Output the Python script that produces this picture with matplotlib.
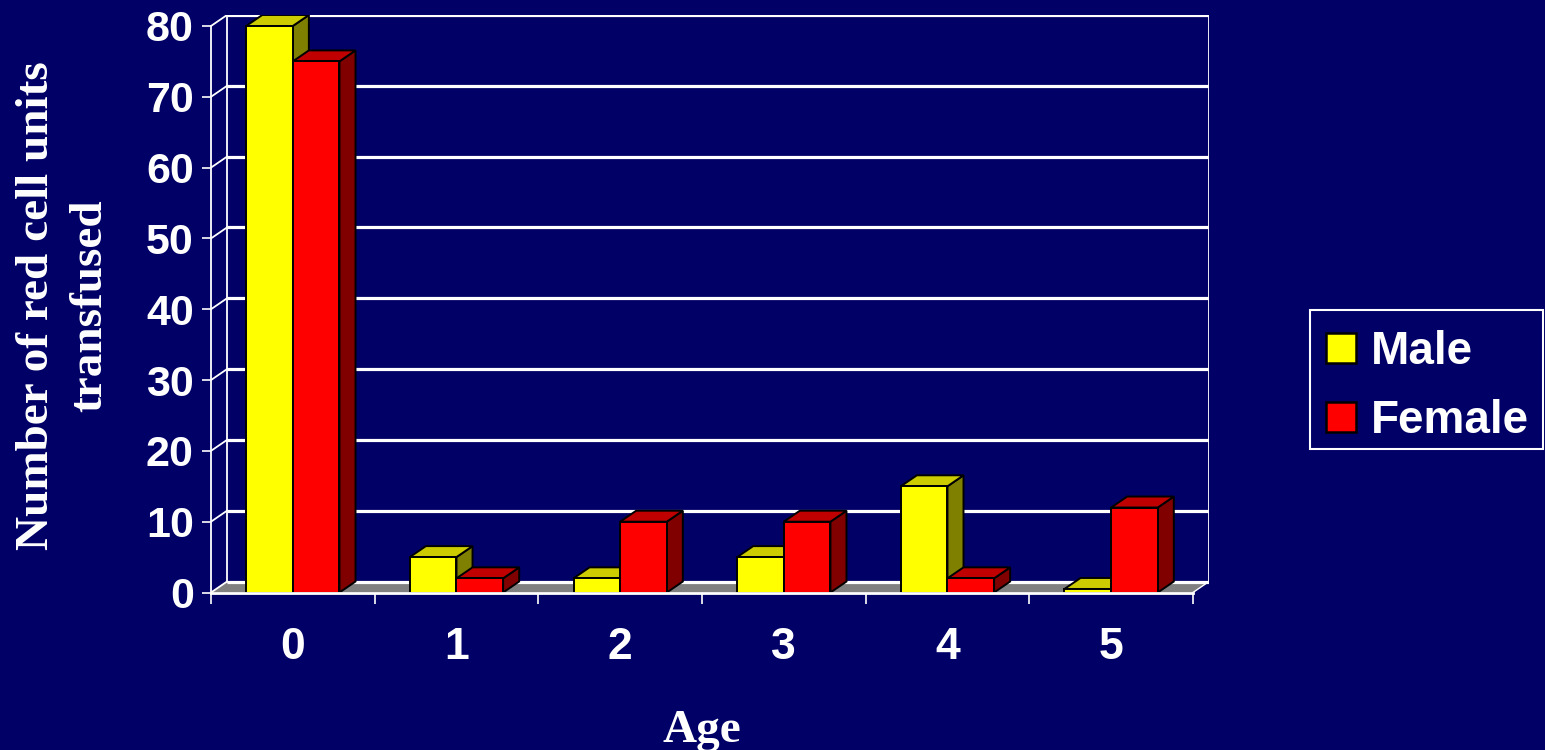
import numpy as np
import matplotlib
matplotlib.use("Agg")
import matplotlib.pyplot as plt
from matplotlib.patches import Polygon, Patch, Rectangle
from matplotlib.font_manager import FontProperties

# ---- data -------------------------------------------------------------
AGES = ["0", "1", "2", "3", "4", "5"]
MALE = [80, 5, 2, 5, 15, 0.5]
FEMALE = [75, 2, 10, 10, 2, 12]
Y_TICKS = [0, 10, 20, 30, 40, 50, 60, 70, 80]
SERIES = ["Male", "Female"]

# ---- style ------------------------------------------------------------
NAVY = "#000066"
FLOOR = "#808080"
FACE_COLORS = {
    "Male": ("#FFFF00", "#CCCC00", "#808000"),     # front, top, side
    "Female": ("#FF0000", "#C00000", "#800000"),
}
DEPTH_X = 0.098     # oblique depth offset, category units
DEPTH_Y = 1.55      # oblique depth offset, value units
BAR_W = 0.285
YMAX = 80

sans = "Liberation Sans"
serif = "Liberation Serif"

W, H = 1545, 750
fig = plt.figure(figsize=(W / 100, H / 100), dpi=100, facecolor=NAVY)
ax = fig.add_axes([211 / W, 1 - 592.5 / H, (1209 - 211) / W, (592.5 - 15) / H])
ax.set_facecolor("none")

n = len(AGES)
x_left, x_right = -0.5, n - 0.5
ax.set_xlim(x_left, x_right + DEPTH_X)
ax.set_ylim(0, YMAX + DEPTH_Y)

# floor of the box
ax.add_patch(Polygon([(x_left, 0), (x_right, 0),
                      (x_right + DEPTH_X, DEPTH_Y), (x_left + DEPTH_X, DEPTH_Y)],
                     closed=True, facecolor=FLOOR, edgecolor="none", zorder=1))

# back wall gridlines and the side-wall diagonals
for v in Y_TICKS:
    ax.plot([x_left + DEPTH_X, x_right + DEPTH_X], [v + DEPTH_Y, v + DEPTH_Y],
            color="white", lw=2.3, solid_capstyle="butt", zorder=2)
    ax.plot([x_left, x_left + DEPTH_X], [v, v + DEPTH_Y],
            color="white", lw=1.3, zorder=2)
for xe in (x_left + DEPTH_X, x_right + DEPTH_X):
    ax.plot([xe, xe], [DEPTH_Y, YMAX + DEPTH_Y], color="white", lw=1.3, zorder=2)
ax.plot([x_right, x_right + DEPTH_X], [0, DEPTH_Y], color="white", lw=1.0, zorder=2)


def draw_box(x0, width, value, colors, z):
    front, top, side = colors
    x1 = x0 + width
    kw = dict(closed=True, edgecolor="black", lw=1.4, joinstyle="miter", zorder=z)
    ax.add_patch(Polygon([(x1, 0), (x1 + DEPTH_X, DEPTH_Y),
                          (x1 + DEPTH_X, value + DEPTH_Y), (x1, value)],
                         facecolor=side, **kw))
    ax.add_patch(Polygon([(x0, value), (x1, value),
                          (x1 + DEPTH_X, value + DEPTH_Y), (x0 + DEPTH_X, value + DEPTH_Y)],
                         facecolor=top, **kw))
    ax.add_patch(Polygon([(x0, 0), (x1, 0), (x1, value), (x0, value)],
                         facecolor=front, **kw))


for i in range(n):
    draw_box(i - BAR_W, BAR_W, MALE[i], FACE_COLORS["Male"], 5 + 2 * i)
    draw_box(i, BAR_W, FEMALE[i], FACE_COLORS["Female"], 6 + 2 * i)

# axes, ticks, labels
for s in ("top", "right"):
    ax.spines[s].set_visible(False)
ax.spines["left"].set_bounds(0, YMAX)
ax.spines["left"].set_color("white")
ax.spines["left"].set_linewidth(1.3)
ax.spines["bottom"].set_bounds(x_left, x_right)
ax.spines["bottom"].set_color("white")
ax.spines["bottom"].set_linewidth(2.0)
ax.spines["bottom"].set_zorder(30)

ax.set_xticks(np.arange(x_left, x_right + 0.01, 1.0))
ax.set_xticklabels([])
ax.set_xticks(np.arange(n), minor=True)
ax.set_xticklabels(AGES, minor=True, fontsize=32, fontweight="bold",
                   family=sans, color="white")
ax.tick_params(axis="x", which="major", length=8, width=1.2, color="white", direction="out")
ax.tick_params(axis="x", which="minor", length=0, pad=24.5)

ax.set_yticks(Y_TICKS)
ax.set_yticklabels([str(t) for t in Y_TICKS], fontsize=31, fontweight="bold",
                   family=sans, color="white")
ax.tick_params(axis="y", length=6.5, width=1.2, color="white", pad=6)

fig.text(64 / W, 1 - 306 / H, "Number of red cell units\ntransfused",
         rotation=90, ha="center", va="center", multialignment="center",
         fontsize=34, fontweight="bold", family=serif, color="white",
         linespacing=1.35)
fig.text(702 / W, 1 - 742 / H, "Age", ha="center", va="baseline",
         fontsize=34, fontweight="bold", family=serif, color="white")

# legend: outline box plus entries
fig.add_artist(Rectangle((1310 / W, 1 - 449 / H), (1543 - 1310) / W, (449 - 310) / H,
                         transform=fig.transFigure, facecolor="none",
                         edgecolor="white", lw=1.5))
handles = [Patch(facecolor=FACE_COLORS[s][0], edgecolor="black", lw=1.8) for s in SERIES]
leg = ax.legend(handles, SERIES, loc="upper left",
                bbox_to_anchor=(1326 / W, 1 - 330 / H), bbox_transform=fig.transFigure,
                prop=FontProperties(family=sans, weight="bold", size=33),
                labelcolor="white", frameon=False,
                handlelength=0.65, handleheight=0.65, handletextpad=0.33,
                labelspacing=0.55, borderpad=0, borderaxespad=0)

fig.savefig("out.png", dpi=100, facecolor=NAVY)
